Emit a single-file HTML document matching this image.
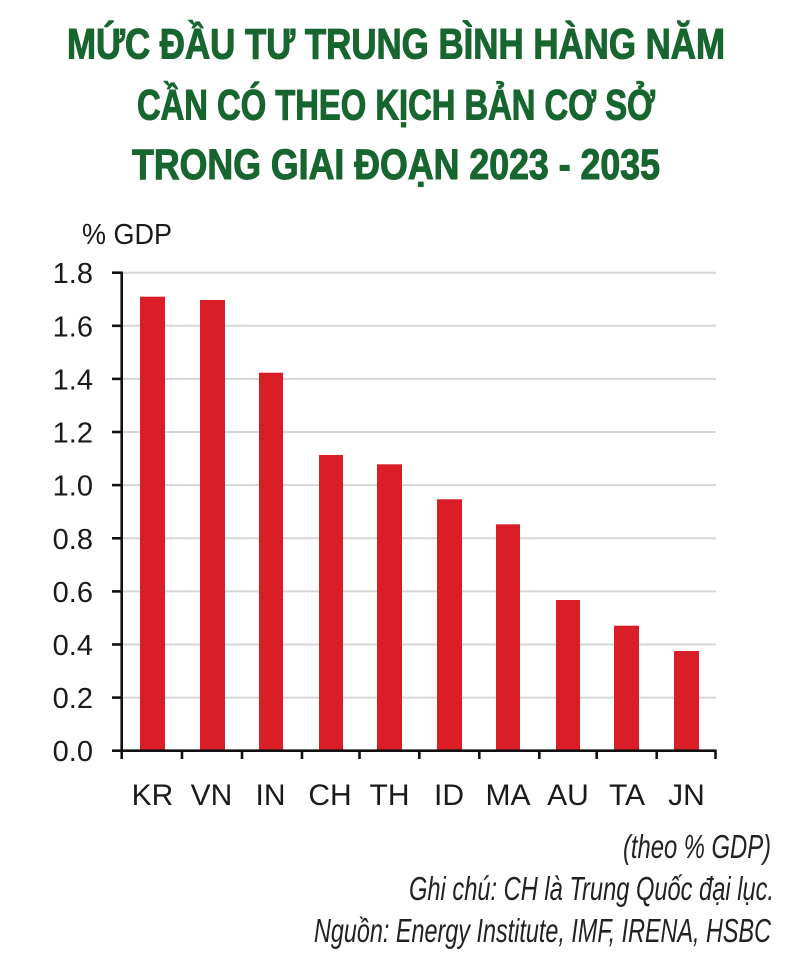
<!DOCTYPE html>
<html>
<head>
<meta charset="utf-8">
<style>
  html, body { margin: 0; padding: 0; background: #ffffff; }
  body { width: 807px; height: 976px; overflow: hidden; }
  svg { display: block; }
</style>
</head>
<body>
<svg width="807" height="976" viewBox="0 0 807 976" xmlns="http://www.w3.org/2000/svg">
  <rect x="0" y="0" width="807" height="976" fill="#ffffff"/>

  <!-- Title -->
  <g font-family="'Liberation Sans', 'Noto Sans CJK SC', sans-serif" font-weight="bold" font-size="43" fill="#17652f" stroke="#17652f" stroke-width="1.1" text-anchor="middle">
    <text x="396" y="58.5" textLength="658" lengthAdjust="spacingAndGlyphs">MỨC ĐẦU TƯ TRUNG BÌNH HÀNG NĂM</text>
    <text x="396" y="119.5" textLength="518" lengthAdjust="spacingAndGlyphs">CẦN CÓ THEO KỊCH BẢN CƠ SỞ</text>
    <text x="396" y="179" textLength="528" lengthAdjust="spacingAndGlyphs">TRONG GIAI ĐOẠN 2023 - 2035</text>
  </g>

  <!-- Y axis unit -->
  <text x="82" y="244" font-family="'Liberation Sans', sans-serif" font-size="29" fill="#1a1a1a" textLength="90" lengthAdjust="spacingAndGlyphs">% GDP</text>

  <!-- Gridlines -->
  <g stroke="#d6d6d6" stroke-width="2">
    <line x1="122" y1="272.7" x2="716" y2="272.7"/>
    <line x1="122" y1="325.8" x2="716" y2="325.8"/>
    <line x1="122" y1="378.9" x2="716" y2="378.9"/>
    <line x1="122" y1="432.0" x2="716" y2="432.0"/>
    <line x1="122" y1="485.1" x2="716" y2="485.1"/>
    <line x1="122" y1="538.3" x2="716" y2="538.3"/>
    <line x1="122" y1="591.4" x2="716" y2="591.4"/>
    <line x1="122" y1="644.5" x2="716" y2="644.5"/>
    <line x1="122" y1="697.6" x2="716" y2="697.6"/>
  </g>

  <!-- Bars -->
  <g fill="#d91e27">
    <rect x="140" y="296.7" width="25" height="454"/>
    <rect x="200" y="300" width="25" height="450.7"/>
    <rect x="259" y="372.7" width="24" height="378"/>
    <rect x="319" y="455" width="24" height="295.7"/>
    <rect x="377" y="464.3" width="25" height="286.4"/>
    <rect x="437" y="499.3" width="25" height="251.4"/>
    <rect x="496" y="524.3" width="24" height="226.4"/>
    <rect x="556" y="600" width="24" height="150.7"/>
    <rect x="614" y="625.7" width="25" height="125"/>
    <rect x="674" y="651" width="25" height="99.7"/>
  </g>

  <!-- Axes -->
  <g stroke="#111111" stroke-width="2.6" fill="none">
    <line x1="121.7" y1="271.5" x2="121.7" y2="752"/>
    <line x1="120.5" y1="750.7" x2="716.5" y2="750.7"/>
    <!-- y ticks -->
    <line x1="112" y1="272.7" x2="122" y2="272.7"/>
    <line x1="112" y1="325.8" x2="122" y2="325.8"/>
    <line x1="112" y1="378.9" x2="122" y2="378.9"/>
    <line x1="112" y1="432.0" x2="122" y2="432.0"/>
    <line x1="112" y1="485.1" x2="122" y2="485.1"/>
    <line x1="112" y1="538.3" x2="122" y2="538.3"/>
    <line x1="112" y1="591.4" x2="122" y2="591.4"/>
    <line x1="112" y1="644.5" x2="122" y2="644.5"/>
    <line x1="112" y1="697.6" x2="122" y2="697.6"/>
    <line x1="112" y1="750.7" x2="122" y2="750.7"/>
    <!-- x ticks -->
    <line x1="121.7" y1="750" x2="121.7" y2="759"/>
    <line x1="182" y1="750" x2="182" y2="759"/>
    <line x1="242" y1="750" x2="242" y2="759"/>
    <line x1="302" y1="750" x2="302" y2="759"/>
    <line x1="359.5" y1="750" x2="359.5" y2="759"/>
    <line x1="419.3" y1="750" x2="419.3" y2="759"/>
    <line x1="479.3" y1="750" x2="479.3" y2="759"/>
    <line x1="539.3" y1="750" x2="539.3" y2="759"/>
    <line x1="596.7" y1="750" x2="596.7" y2="759"/>
    <line x1="656.7" y1="750" x2="656.7" y2="759"/>
    <line x1="715.5" y1="750" x2="715.5" y2="759"/>
  </g>

  <!-- Y tick labels -->
  <g font-family="'Liberation Sans', sans-serif" font-size="29" fill="#1a1a1a" text-anchor="end">
    <text x="93" y="283.2">1.8</text>
    <text x="93" y="336.3">1.6</text>
    <text x="93" y="389.4">1.4</text>
    <text x="93" y="442.5">1.2</text>
    <text x="93" y="495.6">1.0</text>
    <text x="93" y="548.8">0.8</text>
    <text x="93" y="601.9">0.6</text>
    <text x="93" y="655.0">0.4</text>
    <text x="93" y="708.1">0.2</text>
    <text x="93" y="761.2">0.0</text>
  </g>

  <!-- X labels -->
  <g font-family="'Liberation Sans', sans-serif" font-size="30" fill="#1a1a1a" text-anchor="middle">
    <text x="152.5" y="805">KR</text>
    <text x="211.5" y="805">VN</text>
    <text x="270.5" y="805">IN</text>
    <text x="330" y="805">CH</text>
    <text x="389.5" y="805">TH</text>
    <text x="449" y="805">ID</text>
    <text x="508" y="805">MA</text>
    <text x="568" y="805">AU</text>
    <text x="627" y="805">TA</text>
    <text x="686.5" y="805">JN</text>
  </g>

  <!-- Footnotes -->
  <g font-family="'Liberation Sans', sans-serif" font-style="italic" font-size="33" fill="#222222" text-anchor="end">
    <text x="771" y="858" textLength="148" lengthAdjust="spacingAndGlyphs">(theo % GDP)</text>
    <text x="774" y="900" textLength="365" lengthAdjust="spacingAndGlyphs">Ghi chú: CH là Trung Quốc đại lục.</text>
    <text x="771" y="942" textLength="457" lengthAdjust="spacingAndGlyphs">Nguồn: Energy Institute, IMF, IRENA, HSBC</text>
  </g>
</svg>
</body>
</html>
